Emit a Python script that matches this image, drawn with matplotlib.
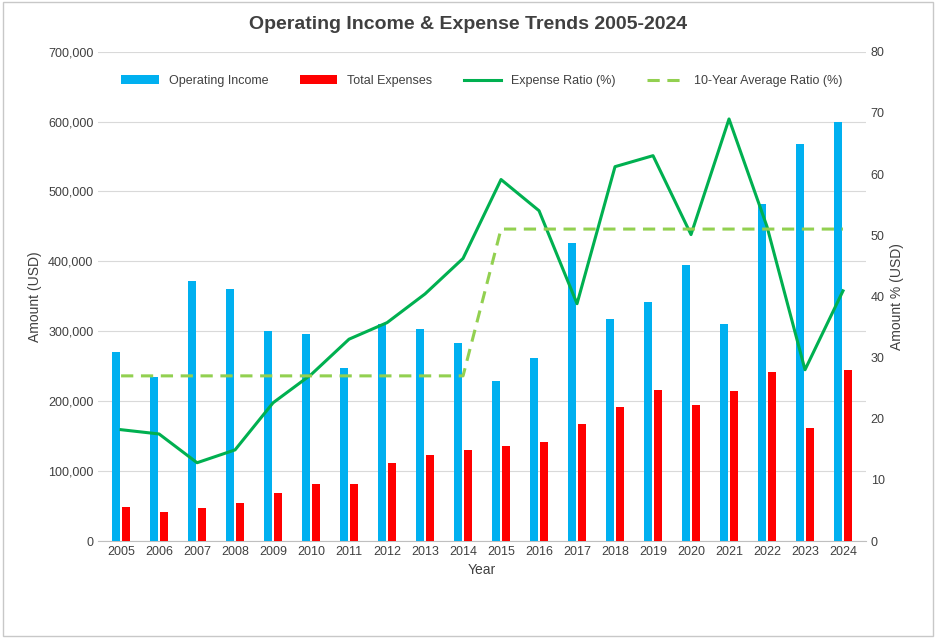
import matplotlib.pyplot as plt
import numpy as np

years = list(range(2005, 2025))
operating_income = [270000, 235000, 372000, 360000, 300000, 296000, 247000, 310000, 303000, 283000,
                    229000, 262000, 426000, 317000, 342000, 395000, 311000, 482000, 568000, 600000]
total_expenses = [49000, 42000, 47000, 54000, 69000, 82000, 82000, 111000, 123000, 130000,
                  136000, 141000, 167000, 192000, 216000, 195000, 214000, 242000, 161000, 244000]
expense_ratio = [18.2, 17.5, 12.8, 14.9, 22.6, 27.2, 33.0, 35.7, 40.4, 46.2,
                 59.1, 54.0, 38.8, 61.2, 63.0, 50.1, 69.0, 51.4, 28.0, 40.9]
avg_ratio = [27] * 10 + [51] * 10

plt.rcParams["font.family"] = "Liberation Sans"
fig = plt.figure(figsize=(9.36, 6.38), dpi=100)
fig.patches.append(plt.Rectangle((0.003, 0.003), 0.994, 0.994, transform=fig.transFigure,
                                 fill=False, edgecolor="#c8c8c8", linewidth=1))
ax = fig.add_axes([0.105, 0.152, 0.82, 0.767])
x = np.arange(len(years))
w = 0.22
b1 = ax.bar(x - 0.13, operating_income, w, color="#00b0f0", label="Operating Income", zorder=3)
b2 = ax.bar(x + 0.13, total_expenses, w, color="#ff0000", label="Total Expenses", zorder=3)
ax.set_ylim(0, 700000)
ax.set_yticks(range(0, 700001, 100000))
ax.set_yticklabels([f"{v:,}" for v in range(0, 700001, 100000)])
ax.set_xticks(x)
ax.set_xticklabels(years)
ax.set_xlim(-0.6, len(years) - 0.4)
ax.grid(axis="y", color="#d9d9d9", linewidth=0.8, zorder=0)
for s in ["top", "right", "left"]:
    ax.spines[s].set_visible(False)
ax.spines["bottom"].set_color("#bfbfbf")
ax.tick_params(length=0, labelsize=9, colors="#404040")
ax.set_xlabel("Year", fontsize=10, color="#404040")
ax.set_ylabel("Amount (USD)", fontsize=10, color="#404040")

ax2 = ax.twinx()
l1, = ax2.plot(x, expense_ratio, color="#00b050", linewidth=2.2, label="Expense Ratio (%)")
l2, = ax2.plot(x, avg_ratio, color="#92d050", linewidth=2.2, linestyle=(0, (4, 2.5)),
               label="10-Year Average Ratio (%)")
ax2.set_ylim(0, 80)
ax2.set_yticks(range(0, 81, 10))
for s in ["top", "right", "left", "bottom"]:
    ax2.spines[s].set_visible(False)
ax2.tick_params(length=0, labelsize=9, colors="#404040")
ax2.set_ylabel("Amount % (USD)", fontsize=10, color="#404040")

ax.legend([b1, b2, l1, l2], [h.get_label() for h in [b1, b2, l1, l2]], loc="upper center",
          bbox_to_anchor=(0.5, 0.975), ncol=4, frameon=False, fontsize=9,
          handlelength=3, columnspacing=2.5, labelcolor="#404040")
fig.text(0.5, 0.955, "Operating Income & Expense Trends 2005-2024", ha="center",
         fontsize=14, fontweight="bold", color="#404040")
fig.savefig("out.png", dpi=100)
